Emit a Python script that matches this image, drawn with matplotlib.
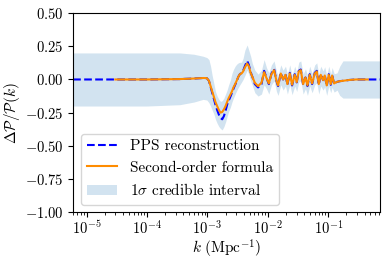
import numpy as np
import matplotlib
matplotlib.use("Agg")
import matplotlib.pyplot as plt

plt.rcParams['font.family'] = 'serif'
plt.rcParams['font.serif'] = ['cmr10']
plt.rcParams['mathtext.fontset'] = 'cm'
plt.rcParams['axes.formatter.use_mathtext'] = True
plt.rcParams['font.size'] = 11

nan = np.nan

# wavenumbers (Mpc^-1)
k = [6e-6, 1e-5, 3e-5, 1e-4, 3.5e-4, 6e-4, 8.5e-4, 9.8e-4,
     1.06e-3, 1.13e-3, 1.2e-3, 1.28e-3, 1.36e-3, 1.45e-3, 1.55e-3, 1.65e-3,
     1.76e-3, 1.88e-3, 2.0e-3, 2.12e-3, 2.25e-3, 2.4e-3, 2.55e-3, 2.7e-3,
     2.88e-3, 3.05e-3, 3.25e-3, 3.45e-3, 3.67e-3, 3.9e-3, 4.17e-3, 4.55e-3,
     4.85e-3, 5.2e-3, 5.55e-3, 6.1e-3, 6.9e-3, 7.85e-3, 8.69e-3, 9.51e-3,
     1.04e-2, 1.15e-2, 1.27e-2, 1.39e-2, 1.48e-2, 1.64e-2, 1.79e-2, 1.96e-2,
     2.11e-2, 2.31e-2, 2.52e-2, 2.79e-2, 3.01e-2, 3.25e-2, 3.51e-2, 3.84e-2,
     4.2e-2, 4.53e-2, 4.94e-2, 5.41e-2, 5.98e-2, 6.46e-2, 6.97e-2, 7.52e-2,
     8.22e-2, 8.75e-2, 9.44e-2, 1.02e-1, 1.1e-1, 1.16e-1, 1.25e-1, 1.3e-1,
     1.4e-1, 1.55e-1, 1.75e-1, 2.2e-1, 2.9e-1, 4.5e-1, 7.2e-1]

# second-order formula
second_order = [nan, nan, 0.0, 0.0, 0.003, 0.007, 0.011, 0.01,
                -0.01, -0.05, -0.09, -0.13, -0.17, -0.2, -0.23, -0.25,
                -0.245, -0.225, -0.2, -0.17, -0.14, -0.115, -0.09, -0.06,
                -0.035, -0.01, 0.02, 0.04, 0.045, 0.06, 0.09, 0.12,
                0.1, 0.05, 0.02, -0.025, -0.05, -0.025, 0.055, 0.01,
                -0.03, 0.04, 0.07, -0.01, -0.045, 0.045, 0.0, 0.035,
                -0.035, 0.045, -0.04, 0.035, -0.02, 0.06, 0.07, -0.035,
                0.015, -0.045, 0.035, -0.03, 0.045, 0.06, -0.035, 0.035,
                -0.005, 0.03, -0.045, 0.035, -0.035, 0.03, -0.03, -0.025,
                -0.018, -0.013, -0.01, -0.004, 0.0, 0.0, nan]

# PPS reconstruction
pps = [0.0, 0.0, 0.0, 0.0, 0.003, 0.007, 0.011, 0.01,
       -0.01, -0.055, -0.1, -0.145, -0.19, -0.23, -0.265, -0.29,
       -0.3, -0.275, -0.235, -0.19, -0.16, -0.13, -0.1, -0.07,
       -0.04, -0.015, 0.02, 0.04, 0.05, 0.065, 0.1, 0.14,
       0.11, 0.055, 0.02, -0.035, -0.06, -0.035, 0.065, 0.012,
       -0.035, 0.045, 0.08, -0.012, -0.05, 0.05, 0.0, 0.04,
       -0.04, 0.05, -0.045, 0.04, -0.022, 0.065, 0.075, -0.04,
       0.015, -0.05, 0.04, -0.035, 0.05, 0.065, -0.04, 0.04,
       -0.005, 0.035, -0.05, 0.04, -0.04, 0.035, -0.035, -0.025,
       -0.018, -0.013, -0.01, -0.004, 0.0, 0.0, 0.0]

# 1 sigma band
band_hi = [0.2, 0.2, 0.2, 0.2, 0.2, 0.19, 0.175, 0.165,
           0.15, 0.1, 0.03, -0.03, -0.09, -0.125, -0.15, -0.165,
           -0.16, -0.14, -0.11, -0.08, -0.04, -0.005, 0.045, 0.075,
           0.1, 0.115, 0.125, 0.13, 0.13, 0.16, 0.22, 0.26,
           0.22, 0.175, 0.12, 0.07, 0.04, 0.07, 0.15, 0.09,
           0.05, 0.11, 0.14, 0.06, 0.03, 0.11, 0.07, 0.1,
           0.04, 0.11, 0.03, 0.1, 0.05, 0.13, 0.14, 0.04,
           0.08, 0.03, 0.1, 0.045, 0.11, 0.125, 0.04, 0.1,
           0.065, 0.095, 0.03, 0.1, 0.04, 0.09, 0.045, 0.045,
           0.05, 0.1, 0.14, 0.14, 0.14, 0.14, 0.14]
band_lo = [-0.2, -0.2, -0.2, -0.2, -0.19, -0.17, -0.15, -0.155,
           -0.175, -0.2, -0.23, -0.26, -0.3, -0.33, -0.355, -0.37,
           -0.38, -0.355, -0.32, -0.28, -0.24, -0.21, -0.17, -0.14,
           -0.11, -0.085, -0.06, -0.04, -0.02, 0.0, 0.03, 0.07,
           0.04, -0.01, -0.045, -0.1, -0.125, -0.11, -0.04, -0.07,
           -0.11, -0.04, -0.01, -0.09, -0.12, -0.04, -0.08, -0.05,
           -0.11, -0.04, -0.115, -0.05, -0.09, -0.02, -0.01, -0.11,
           -0.07, -0.12, -0.05, -0.1, -0.04, -0.025, -0.11, -0.05,
           -0.08, -0.055, -0.12, -0.05, -0.1, -0.06, -0.095, -0.09,
           -0.08, -0.12, -0.14, -0.14, -0.14, -0.14, -0.14]

fig = plt.figure(figsize=(3.91, 2.62), dpi=100)
ax = fig.add_axes([0.187, 0.19, 0.785, 0.76])

band = ax.fill_between(k, band_lo, band_hi, color='C0', alpha=0.2, linewidth=0,
                       label=r'$1\sigma$ credible interval')
l1, = ax.plot(k, pps, '--', color='blue', lw=1.5, label='PPS reconstruction')
l2, = ax.plot(k, second_order, '-', color='darkorange', lw=1.5,
              label='Second-order formula')

ax.set_xscale('log')
ax.set_xlim(6e-6, 7.2e-1)
ax.set_ylim(-1.0, 0.5)
ax.set_yticks([-1.0, -0.75, -0.5, -0.25, 0.0, 0.25, 0.5])
ax.tick_params(labelsize=10.5)
ax.tick_params(axis='x', pad=2)
ax.set_xlabel(r'$k\ (\mathrm{Mpc}^{-1})$', labelpad=0)
ax.set_ylabel(r'$\Delta\mathcal{P}/\mathcal{P}(k)$', labelpad=2)

ax.legend(handles=[l1, l2, band], loc='lower left', fontsize=11)

fig.savefig('out.png', dpi=100)
